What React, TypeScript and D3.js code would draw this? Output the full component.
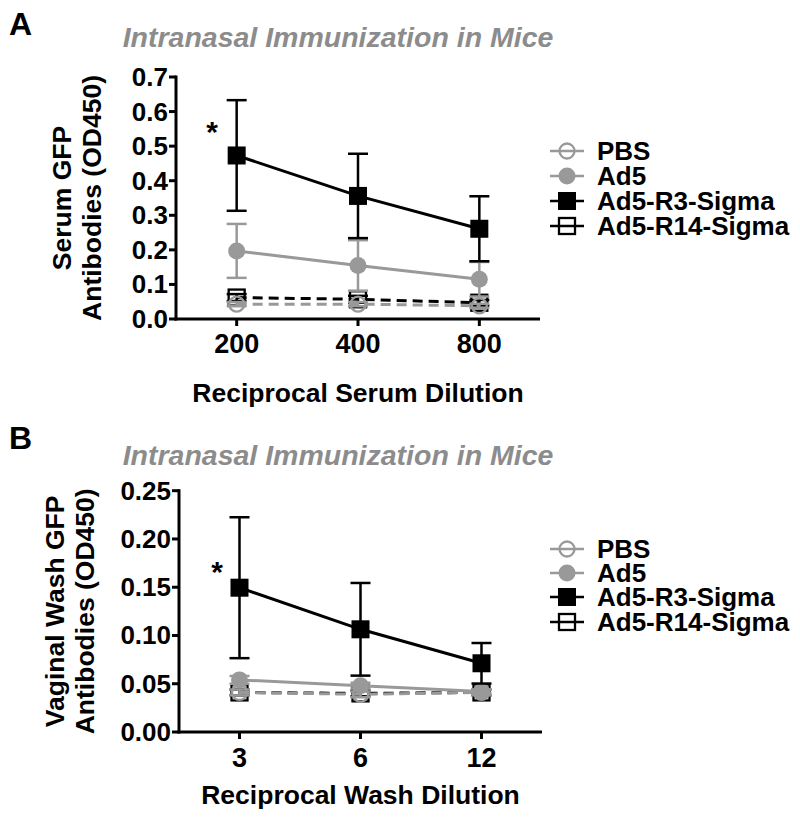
import React from "react";
import * as d3 from "d3";

const dilA = [200, 400, 800];
const dilB = [3, 6, 12];

const seriesNames = ["PBS", "Ad5", "Ad5-R3-Sigma", "Ad5-R14-Sigma"];

const pbsA = [0.043, 0.043, 0.038];
const pbsAErr = [0.006, 0.006, 0.006];
const ad5A = [0.197, 0.155, 0.115];
const ad5AErr = [0.078, 0.073, 0.05];
const r3A = [0.473, 0.356, 0.261];
const r3AErr = [0.16, 0.122, 0.094];
const r14A = [0.062, 0.057, 0.047];
const r14AErr = [0.01, 0.01, 0.008];

const pbsB = [0.041, 0.039, 0.041];
const pbsBErr = [0.003, 0.003, 0.003];
const ad5B = [0.054, 0.048, 0.042];
const ad5BErr = [0.004, 0.003, 0.002];
const r3B = [0.1495, 0.1064, 0.0712];
const r3BErr = [0.073, 0.048, 0.021];
const r14B = [0.041, 0.04, 0.041];
const r14BErr = [0.003, 0.003, 0.003];

const ticksA = [0, 0.1, 0.2, 0.3, 0.4, 0.5, 0.6, 0.7];
const ticksB = [0, 0.05, 0.1, 0.15, 0.2, 0.25];

const FONT = "'Liberation Sans', Arial, Helvetica, sans-serif";
const GRAY = "#999999";
const BLACK = "#000000";

type Style = { color: string; shape: "circle" | "square"; filled: boolean; dashed: boolean };
const styles: Style[] = [
  { color: GRAY, shape: "circle", filled: false, dashed: true },
  { color: GRAY, shape: "circle", filled: true, dashed: false },
  { color: BLACK, shape: "square", filled: true, dashed: false },
  { color: BLACK, shape: "square", filled: false, dashed: true },
];

function Marker({ x, y, s }: { x: number; y: number; s: Style }) {
  if (s.shape === "circle") {
    return s.filled ? (
      <circle cx={x} cy={y} r={8.5} fill={s.color} />
    ) : (
      <circle cx={x} cy={y} r={7.5} fill="none" stroke={s.color} strokeWidth={2.3} />
    );
  }
  return s.filled ? (
    <rect x={x - 9} y={y - 9} width={18} height={18} fill={s.color} />
  ) : (
    <rect x={x - 8} y={y - 8} width={16} height={16} fill="none" stroke={s.color} strokeWidth={2.3} />
  );
}

type PanelProps = {
  label: string;
  dil: number[];
  values: number[][];
  errs: number[][];
  ticks: number[];
  yMax: number;
  fmt: (v: number) => string;
  x0: number;
  x1: number;
  yTop: number;
  yBot: number;
  yTitle: string[];
  yTitleX: number[];
  xTitle: string;
  xTickY: number;
  xTitleY: number;
  titleY: number;
  labelY: number;
  legendY: number[];
  star: [number, number];
};

function Panel(p: PanelProps) {
  const lo = p.dil[0] / Math.SQRT2;
  const hi = p.dil[p.dil.length - 1] * Math.SQRT2;
  const x = d3.scaleLog().base(2).domain([lo, hi]).range([p.x0, p.x1]);
  const y = d3.scaleLinear().domain([0, p.yMax]).range([p.yBot, p.yTop]);
  const line = d3
    .line<number>()
    .x((_, i) => x(p.dil[i]))
    .y((v) => y(v));
  const yMid = (p.yTop + p.yBot) / 2;
  const order = [3, 0, 1, 2];
  return (
    <g>
      <text x={9} y={p.labelY} fontFamily={FONT} fontWeight="bold" fontSize={32}>
        {p.label}
      </text>
      <text
        x={338}
        y={p.titleY}
        textAnchor="middle"
        dominantBaseline="central"
        fontFamily={FONT}
        fontWeight="bold"
        fontStyle="italic"
        fontSize={28.5}
        fill="#8c8c8c"
      >
        Intranasal Immunization in Mice
      </text>
      {/* y axis */}
      <line x1={p.x0} x2={p.x0} y1={p.yTop - 1.5} y2={p.yBot + 1.5} stroke={BLACK} strokeWidth={3} />
      {p.ticks.map((t) => (
        <g key={t}>
          <line x1={p.x0 - 7} x2={p.x0} y1={y(t)} y2={y(t)} stroke={BLACK} strokeWidth={3} />
          <text
            x={p.x0 - 8}
            y={y(t)}
            textAnchor="end"
            dominantBaseline="central"
            fontFamily={FONT}
            fontWeight="bold"
            fontSize={26}
          >
            {p.fmt(t)}
          </text>
        </g>
      ))}
      {/* x axis */}
      <line x1={p.x0 - 1.5} x2={p.x1} y1={p.yBot} y2={p.yBot} stroke={BLACK} strokeWidth={3} />
      {p.dil.map((d) => (
        <g key={d}>
          <line x1={x(d)} x2={x(d)} y1={p.yBot} y2={p.yBot + 7} stroke={BLACK} strokeWidth={3} />
          <text
            x={x(d)}
            y={p.xTickY}
            textAnchor="middle"
            dominantBaseline="central"
            fontFamily={FONT}
            fontWeight="bold"
            fontSize={27}
          >
            {d}
          </text>
        </g>
      ))}
      <text
        x={(p.x0 + p.x1) / 2}
        y={p.xTitleY}
        textAnchor="middle"
        dominantBaseline="central"
        fontFamily={FONT}
        fontWeight="bold"
        fontSize={26.5}
      >
        {p.xTitle}
      </text>
      {p.yTitle.map((t, i) => (
        <text
          key={t}
          transform={`translate(${p.yTitleX[i]},${yMid}) rotate(-90)`}
          textAnchor="middle"
          dominantBaseline="central"
          fontFamily={FONT}
          fontWeight="bold"
          fontSize={26.5}
        >
          {t}
        </text>
      ))}
      {/* data */}
      {order.map((si) => {
        const s = styles[si];
        const vals = p.values[si];
        const err = p.errs[si];
        return (
          <g key={si}>
            {vals.map((v, i) => {
              const cx = x(p.dil[i]);
              return (
                <g key={i}>
                  <line x1={cx} x2={cx} y1={y(v - err[i])} y2={y(v + err[i])} stroke={s.color} strokeWidth={2.5} />
                  <line x1={cx - 10} x2={cx + 10} y1={y(v + err[i])} y2={y(v + err[i])} stroke={s.color} strokeWidth={2.5} />
                  <line x1={cx - 10} x2={cx + 10} y1={y(v - err[i])} y2={y(v - err[i])} stroke={s.color} strokeWidth={2.5} />
                </g>
              );
            })}
            <path
              d={line(vals) || ""}
              fill="none"
              stroke={s.color}
              strokeWidth={3}
              strokeDasharray={s.dashed ? "10,6" : undefined}
            />
            {vals.map((v, i) => (
              <Marker key={i} x={x(p.dil[i])} y={y(v)} s={s} />
            ))}
          </g>
        );
      })}
      <text x={p.star[0]} y={p.star[1]} textAnchor="middle" dominantBaseline="central" fontFamily={FONT} fontWeight="bold" fontSize={30}>
        *
      </text>
      {/* legend */}
      {seriesNames.map((n, i) => (
        <g key={n}>
          <line x1={550} x2={584} y1={p.legendY[i]} y2={p.legendY[i]} stroke={styles[i].color} strokeWidth={2.5} />
          <Marker x={567} y={p.legendY[i]} s={styles[i]} />
          <text x={597} y={p.legendY[i]} dominantBaseline="central" fontFamily={FONT} fontWeight="bold" fontSize={26}>
            {n}
          </text>
        </g>
      ))}
    </g>
  );
}

export default function App() {
  return (
    <svg width={800} height={819} style={{ position: "absolute", left: 0, top: 0, background: "#fff" }}>
      <rect width={800} height={819} fill="#fff" />
      <Panel
        label="A"
        dil={dilA}
        values={[pbsA, ad5A, r3A, r14A]}
        errs={[pbsAErr, ad5AErr, r3AErr, r14AErr]}
        ticks={ticksA}
        yMax={0.7}
        fmt={(v) => v.toFixed(1)}
        x0={176}
        x1={540}
        yTop={77}
        yBot={319}
        yTitle={["Serum GFP", "Antibodies (OD450)"]}
        yTitleX={[62, 92]}
        xTitle="Reciprocal Serum Dilution"
        xTickY={344}
        xTitleY={393}
        titleY={37}
        labelY={35}
        legendY={[151, 176, 201, 226]}
        star={[212, 131]}
      />
      <Panel
        label="B"
        dil={dilB}
        values={[pbsB, ad5B, r3B, r14B]}
        errs={[pbsBErr, ad5BErr, r3BErr, r14BErr]}
        ticks={ticksB}
        yMax={0.25}
        fmt={(v) => v.toFixed(2)}
        x0={179}
        x1={542}
        yTop={490.7}
        yBot={732}
        yTitle={["Vaginal Wash GFP", "Antibodies (OD450)"]}
        yTitleX={[55, 85]}
        xTitle="Reciprocal Wash Dilution"
        xTickY={758}
        xTitleY={795}
        titleY={455}
        labelY={449}
        legendY={[549, 573, 597, 622]}
        star={[217, 571]}
      />
    </svg>
  );
}
